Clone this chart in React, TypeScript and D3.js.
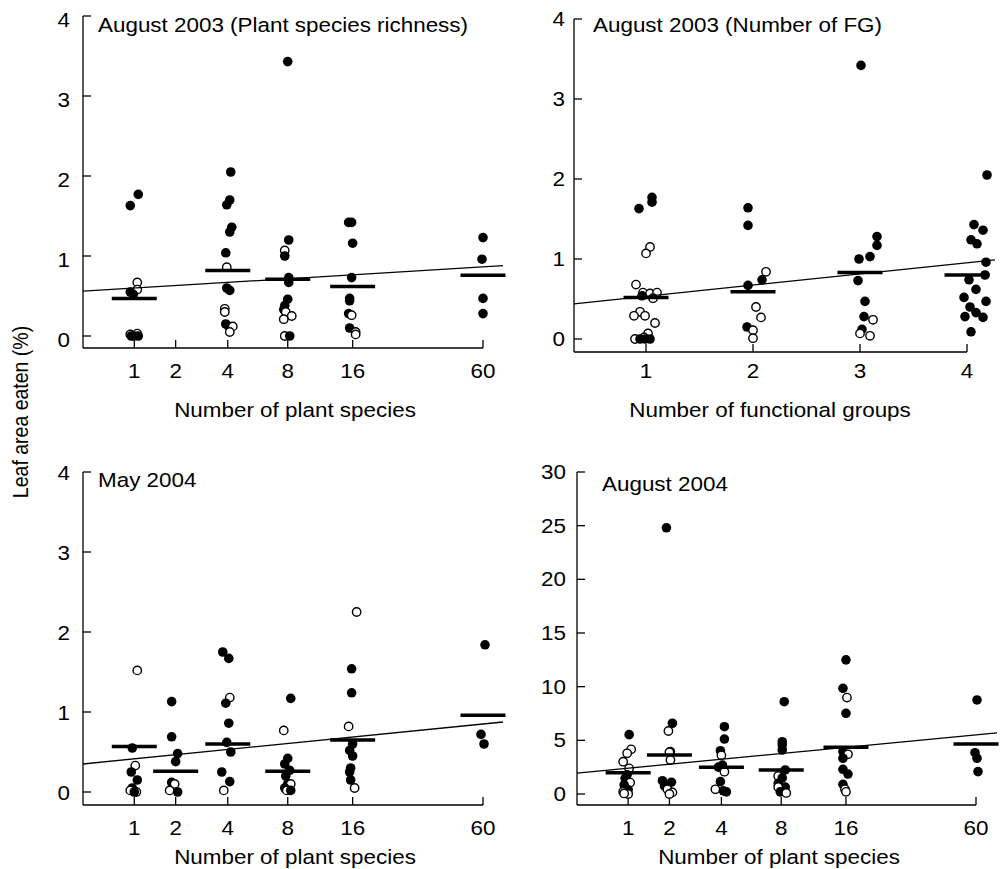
import React from 'react';
import * as d3 from 'd3';

// points: [level, value, filled (1) / open (0), jitter px]
const speciesLevels = [1, 2, 4, 8, 16, 60];
const fgLevels = [1, 2, 3, 4];

const aug03RichPts = [
  [1, 1.63, 1, -4], [1, 1.77, 1, 4], [1, 0.67, 0, 3], [1, 0.58, 0, 3], [1, 0.55, 1, -4], [1, 0.52, 1, -1],
  [1, 0.02, 0, -4], [1, 0.03, 0, 3], [1, 0, 1, 0], [1, 0, 1, 4], [1, 0, 1, -3],
  [4, 2.05, 1, 3], [4, 1.7, 1, 2], [4, 1.64, 1, -1], [4, 1.36, 1, 4], [4, 1.3, 1, 2], [4, 1.04, 1, -2],
  [4, 0.86, 0, -1], [4, 0.6, 1, -1], [4, 0.57, 1, 2], [4, 0.34, 0, -3], [4, 0.3, 0, -3], [4, 0.15, 1, -2],
  [4, 0.12, 1, 1], [4, 0.12, 0, 5], [4, 0.05, 0, 2],
  [8, 3.43, 1, 0], [8, 1.2, 1, 1], [8, 1.07, 0, -3], [8, 1.0, 1, -3], [8, 0.73, 1, 1], [8, 0.67, 1, 1],
  [8, 0.46, 1, 0], [8, 0.38, 1, -3], [8, 0.33, 1, -4], [8, 0.3, 0, -2], [8, 0.25, 0, 4], [8, 0.21, 0, -4],
  [8, 0, 0, -3], [8, 0, 1, 2],
  [16, 1.42, 1, -4], [16, 1.42, 1, -1], [16, 1.16, 1, 0], [16, 0.73, 1, -1], [16, 0.47, 1, -3], [16, 0.44, 1, -3],
  [16, 0.28, 1, -4], [16, 0.26, 0, -1], [16, 0.1, 1, -3], [16, 0.05, 0, 3], [16, 0.02, 0, 3],
  [60, 1.23, 1, 0], [60, 0.96, 1, -1], [60, 0.47, 1, 0], [60, 0.28, 1, 0],
];
const aug03RichMeans = [[1, 0.47], [4, 0.82], [8, 0.71], [16, 0.62], [60, 0.76]];
const aug03RichFit = [0.56, 0.88];

const aug03FgPts = [
  [1, 1.63, 1, -7], [1, 1.77, 1, 6], [1, 1.71, 1, 6], [1, 1.15, 0, 4], [1, 1.07, 0, 0], [1, 0.68, 0, -10],
  [1, 0.58, 0, -3], [1, 0.57, 0, 4], [1, 0.54, 1, -4], [1, 0.58, 0, 11], [1, 0.51, 0, 7], [1, 0.34, 0, -6],
  [1, 0.29, 0, -12], [1, 0.29, 0, -1], [1, 0.2, 0, 9], [1, 0.07, 0, 2], [1, 0.02, 0, -2], [1, 0, 0, -11],
  [1, 0, 1, -6], [1, 0, 1, -1], [1, 0, 1, 4],
  [2, 1.64, 1, -5], [2, 1.42, 1, -5], [2, 0.67, 1, -5], [2, 0.74, 1, 9], [2, 0.84, 0, 13], [2, 0.4, 0, 3],
  [2, 0.27, 0, 8], [2, 0.15, 1, -6], [2, 0.11, 0, 0], [2, 0.01, 0, 0],
  [3, 3.42, 1, 1], [3, 1.28, 1, 17], [3, 1.17, 1, 17], [3, 1.03, 1, 10], [3, 1.0, 1, -1], [3, 0.73, 1, -2],
  [3, 0.47, 1, 5], [3, 0.28, 1, 4], [3, 0.24, 0, 13], [3, 0.12, 1, 2], [3, 0.07, 0, 0], [3, 0.04, 0, 10],
  [4, 2.05, 1, 20], [4, 1.43, 1, 7], [4, 1.36, 1, 16], [4, 1.24, 1, 4], [4, 1.19, 1, 10], [4, 0.96, 1, 19],
  [4, 0.8, 1, 18], [4, 0.74, 1, 2], [4, 0.62, 1, 9], [4, 0.52, 1, -3], [4, 0.47, 1, 19], [4, 0.4, 1, 3],
  [4, 0.33, 1, 9], [4, 0.28, 1, -2], [4, 0.27, 1, 16], [4, 0.09, 1, 4],
];
const aug03FgMeans = [[1, 0.52], [2, 0.59], [3, 0.83], [4, 0.8]];
const aug03FgFit = [0.44, 0.99];

const may04Pts = [
  [1, 1.52, 0, 3], [1, 0.55, 1, -2], [1, 0.33, 0, 1], [1, 0.25, 1, -3], [1, 0.15, 1, 3], [1, 0.05, 1, -2],
  [1, 0.02, 0, -4], [1, 0, 0, 2], [1, 0, 1, 0],
  [2, 1.13, 1, -4], [2, 0.69, 1, -4], [2, 0.48, 1, 2], [2, 0.38, 1, 0], [2, 0.12, 1, -4], [2, 0.1, 0, -1],
  [2, 0.02, 0, -6], [2, 0, 1, 2],
  [4, 1.75, 1, -5], [4, 1.67, 1, 1], [4, 1.18, 0, 2], [4, 1.11, 1, -2], [4, 0.86, 1, 1], [4, 0.62, 1, -1],
  [4, 0.5, 1, 3], [4, 0.25, 1, -6], [4, 0.13, 1, 2], [4, 0.02, 0, -4],
  [8, 1.17, 1, 3], [8, 0.77, 0, -4], [8, 0.42, 1, 0], [8, 0.35, 1, -3], [8, 0.27, 1, 2], [8, 0.2, 1, -2],
  [8, 0.1, 1, 0], [8, 0.1, 0, 3], [8, 0.05, 1, -3], [8, 0.02, 0, -1], [8, 0.02, 1, 3],
  [16, 2.25, 0, 4], [16, 1.54, 1, -1], [16, 1.24, 1, -1], [16, 0.82, 0, -4], [16, 0.6, 1, 0], [16, 0.52, 1, -3],
  [16, 0.45, 1, 0], [16, 0.3, 1, -2], [16, 0.25, 1, -3], [16, 0.15, 1, -2], [16, 0.05, 0, 2],
  [60, 1.84, 1, 2], [60, 0.72, 1, -2], [60, 0.6, 1, 1],
];
const may04Means = [[1, 0.57], [2, 0.26], [4, 0.6], [8, 0.26], [16, 0.65], [60, 0.96]];
const may04Fit = [0.35, 0.875];

const aug04Pts = [
  [1, 5.53, 1, 1], [1, 4.16, 0, 3], [1, 3.79, 0, -1], [1, 3.01, 0, -5], [1, 2.39, 0, 1], [1, 1.8, 1, -1],
  [1, 1.46, 1, -3], [1, 1.06, 0, 2], [1, 0.84, 1, -4], [1, 0.4, 1, 0], [1, 0.22, 0, -5], [1, 0, 0, 0], [1, 0.05, 0, -4],
  [2, 24.8, 1, -3], [2, 6.59, 1, 3], [2, 5.87, 0, -1], [2, 3.95, 1, 1], [2, 3.9, 0, 0], [2, 3.17, 0, 1],
  [2, 1.24, 1, -7], [2, 1.1, 1, 2], [2, 0.75, 1, -5], [2, 0.45, 0, -2], [2, 0.15, 0, 3], [2, 0, 0, 0],
  [4, 6.27, 1, 3], [4, 5.12, 1, 3], [4, 4.03, 1, -1], [4, 3.6, 0, 0], [4, 2.7, 1, 1], [4, 2.5, 1, -3],
  [4, 2.08, 0, 3], [4, 1.15, 1, -1], [4, 0.44, 0, -6], [4, 0.3, 1, 2], [4, 0.2, 1, 5],
  [8, 8.6, 1, 3], [8, 4.87, 1, 1], [8, 4.57, 1, 1], [8, 4.1, 1, 1], [8, 2.24, 1, 4], [8, 1.68, 0, -3],
  [8, 1.5, 1, 1], [8, 1.0, 1, -3], [8, 0.65, 1, 4], [8, 0.65, 0, -3], [8, 0.2, 1, -1], [8, 0.1, 0, 5],
  [16, 12.5, 1, 0], [16, 9.85, 1, -3], [16, 8.98, 0, 1], [16, 7.52, 1, 0], [16, 3.95, 1, -3], [16, 3.7, 0, 2],
  [16, 3.33, 1, -3], [16, 2.3, 1, -3], [16, 1.86, 1, 2], [16, 0.9, 1, -3], [16, 0.44, 0, -1], [16, 0.2, 0, 0],
  [60, 8.76, 1, 1], [60, 3.85, 1, -1], [60, 3.33, 1, 1], [60, 2.08, 1, 2],
];
const aug04Means = [[1, 1.98], [2, 3.63], [4, 2.49], [8, 2.24], [16, 4.35], [60, 4.66]];
const aug04Fit = [1.95, 5.7];

const FONT = 'Liberation Sans, Arial, Helvetica, sans-serif';
const FS = 19.5;

const HText = ({ x, y, anchor = 'start', children }: any) => (
  <text transform={`translate(${x},${y}) scale(1.15,1)`} textAnchor={anchor}
    fontSize={FS} fontFamily={FONT} fill="#000">{children}</text>
);

const logT = (n: number) => Math.log(n + 1);
const linT = (n: number) => n;

const panels = [
  {
    title: 'August 2003 (Plant species richness)', titleX: 98, titleY: 32,
    pts: aug03RichPts, means: aug03RichMeans, fit: aug03RichFit,
    levels: speciesLevels, t: logT, tDomain: [Math.log(1.21), Math.log(61)],
    left: 83, right: 483, fitEnd: 503, top: 16, y0: 336, axisY: 348,
    yTicks: [0, 1, 2, 3, 4], yLabDx: 13, yLabDy: 10.5,
    xTitle: 'Number of plant species', xTitleX: 295, xTitleY: 417, xLabY: 378,
  },
  {
    title: 'August 2003 (Number of FG)', titleX: 593, titleY: 32,
    pts: aug03FgPts, means: aug03FgMeans, fit: aug03FgFit,
    levels: fgLevels, t: linT, tDomain: [0.327, 4],
    left: 574, right: 967, fitEnd: 995, top: 19, y0: 339, axisY: 352,
    yTicks: [0, 1, 2, 3, 4], yLabDx: 9, yLabDy: 7,
    xTitle: 'Number of functional groups', xTitleX: 770, xTitleY: 417, xLabY: 378,
  },
  {
    title: 'May 2004', titleX: 98, titleY: 487,
    pts: may04Pts, means: may04Means, fit: may04Fit,
    levels: speciesLevels, t: logT, tDomain: [Math.log(1.21), Math.log(61)],
    left: 83, right: 483, fitEnd: 503, top: 472, y0: 792, axisY: 805,
    yTicks: [0, 1, 2, 3, 4], yLabDx: 13, yLabDy: 8,
    xTitle: 'Number of plant species', xTitleX: 295, xTitleY: 864, xLabY: 835,
  },
  {
    title: 'August 2004', titleX: 602, titleY: 491,
    pts: aug04Pts, means: aug04Means, fit: aug04Fit,
    levels: speciesLevels, t: logT, tDomain: [Math.log(1.21), Math.log(61)],
    left: 577, right: 976, fitEnd: 997, top: 472, y0: 794, axisY: 805,
    yTicks: [0, 5, 10, 15, 20, 25, 30], yLabDx: 11, yLabDy: 7,
    xTitle: 'Number of plant species', xTitleX: 779, xTitleY: 864, xLabY: 835,
  },
];

const Panel = ({ p }: any) => {
  const yMax = p.yTicks[p.yTicks.length - 1];
  const y = d3.scaleLinear().domain([0, yMax]).range([p.y0, p.top]);
  const xs = d3.scaleLinear().domain(p.tDomain).range([p.left, p.right]);
  const x = (n: number) => xs(p.t(n));
  const fitLine = d3.line()([[p.left, y(p.fit[0])], [p.fitEnd, y(p.fit[1])]]);
  const tick = 8;
  return (
    <g>
      {/* axes */}
      <line x1={p.left} x2={p.left} y1={p.top} y2={p.axisY} stroke="#000" strokeWidth={1.3} />
      <line x1={p.left} x2={p.right} y1={p.axisY} y2={p.axisY} stroke="#000" strokeWidth={1.3} />
      {p.yTicks.map((v: number) => (
        <g key={'y' + v}>
          <line x1={p.left} x2={p.left + tick} y1={y(v)} y2={y(v)} stroke="#000" strokeWidth={1.3} />
          <HText x={p.left - p.yLabDx} y={y(v) + p.yLabDy} anchor="end">{v}</HText>
        </g>
      ))}
      {p.levels.map((n: number) => (
        <g key={'x' + n}>
          <line x1={x(n)} x2={x(n)} y1={p.axisY} y2={p.axisY - tick} stroke="#000" strokeWidth={1.3} />
          <HText x={x(n)} y={p.xLabY} anchor="middle">{n}</HText>
        </g>
      ))}
      {/* points */}
      {p.pts.map((d: number[], i: number) => (
        d[2] ? (
          <circle key={i} cx={x(d[0]) + d[3]} cy={y(d[1])} r={4.8} fill="#000" />
        ) : (
          <circle key={i} cx={x(d[0]) + d[3]} cy={y(d[1])} r={4.2} fill="#fff" stroke="#000" strokeWidth={1.4} />
        )
      ))}
      {/* means */}
      {p.means.map((m: number[]) => (
        <line key={'m' + m[0]} x1={x(m[0]) - 22.5} x2={x(m[0]) + 22.5} y1={y(m[1])} y2={y(m[1])}
          stroke="#000" strokeWidth={3.5} />
      ))}
      <path d={fitLine || ''} fill="none" stroke="#000" strokeWidth={1.3} />
      <HText x={p.titleX} y={p.titleY}>{p.title}</HText>
      <HText x={p.xTitleX} y={p.xTitleY} anchor="middle">{p.xTitle}</HText>
    </g>
  );
};

export default function App() {
  return (
    <svg width={1000} height={869} style={{ position: 'absolute', left: 0, top: 0, background: '#fff' }}>
      <rect width={1000} height={869} fill="#fff" />
      {panels.map((p, i) => <Panel key={i} p={p} />)}
      <text transform="translate(28,412) rotate(-90) scale(1,1.15)" textAnchor="middle" fontSize={FS}
        fontFamily={FONT}>Leaf area eaten (%)</text>
    </svg>
  );
}
